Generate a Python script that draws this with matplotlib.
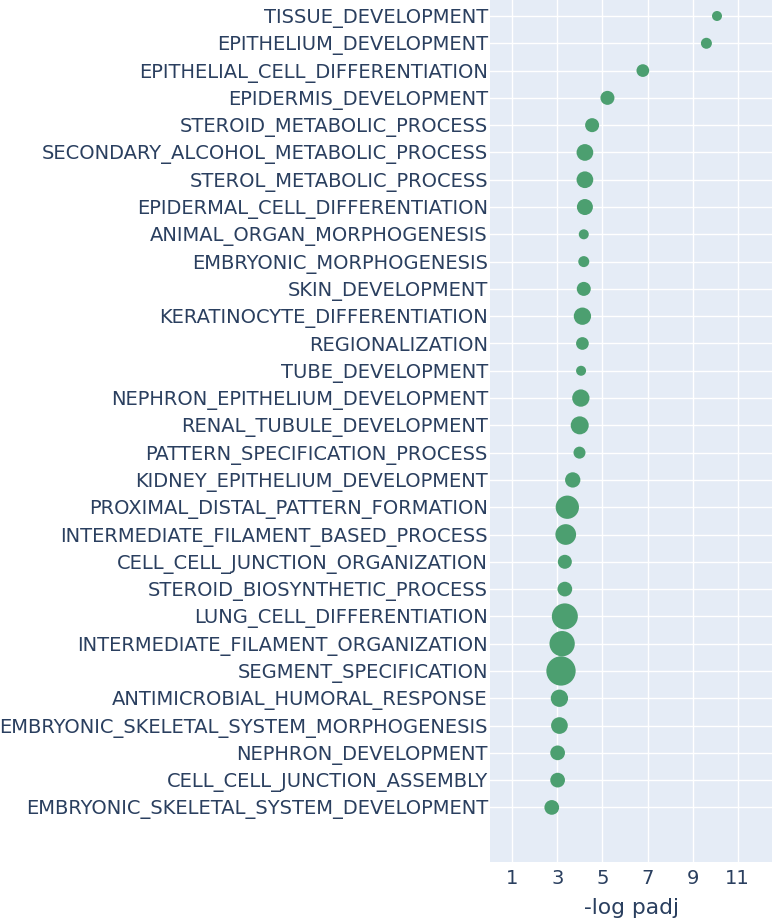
import matplotlib
matplotlib.use("Agg")
import matplotlib.pyplot as plt

# 경로 이름 (위에서 아래 순서)
pathways = [
    "TISSUE_DEVELOPMENT",
    "EPITHELIUM_DEVELOPMENT",
    "EPITHELIAL_CELL_DIFFERENTIATION",
    "EPIDERMIS_DEVELOPMENT",
    "STEROID_METABOLIC_PROCESS",
    "SECONDARY_ALCOHOL_METABOLIC_PROCESS",
    "STEROL_METABOLIC_PROCESS",
    "EPIDERMAL_CELL_DIFFERENTIATION",
    "ANIMAL_ORGAN_MORPHOGENESIS",
    "EMBRYONIC_MORPHOGENESIS",
    "SKIN_DEVELOPMENT",
    "KERATINOCYTE_DIFFERENTIATION",
    "REGIONALIZATION",
    "TUBE_DEVELOPMENT",
    "NEPHRON_EPITHELIUM_DEVELOPMENT",
    "RENAL_TUBULE_DEVELOPMENT",
    "PATTERN_SPECIFICATION_PROCESS",
    "KIDNEY_EPITHELIUM_DEVELOPMENT",
    "PROXIMAL_DISTAL_PATTERN_FORMATION",
    "INTERMEDIATE_FILAMENT_BASED_PROCESS",
    "CELL_CELL_JUNCTION_ORGANIZATION",
    "STEROID_BIOSYNTHETIC_PROCESS",
    "LUNG_CELL_DIFFERENTIATION",
    "INTERMEDIATE_FILAMENT_ORGANIZATION",
    "SEGMENT_SPECIFICATION",
    "ANTIMICROBIAL_HUMORAL_RESPONSE",
    "EMBRYONIC_SKELETAL_SYSTEM_MORPHOGENESIS",
    "NEPHRON_DEVELOPMENT",
    "CELL_CELL_JUNCTION_ASSEMBLY",
    "EMBRYONIC_SKELETAL_SYSTEM_DEVELOPMENT",
]

neg_log_padj = [
    10.08, 9.61, 6.79, 5.22, 4.54, 4.22, 4.22, 4.22, 4.17, 4.17,
    4.17, 4.11, 4.11, 4.05, 4.04, 3.99, 3.98, 3.68, 3.44, 3.37,
    3.33, 3.33, 3.33, 3.21, 3.16, 3.09, 3.09, 3.01, 3.01, 2.75,
]

# 마커 크기 값 (plotly size, 지름 px)
marker_size = [
    10, 11, 12.7, 14, 14, 16.7, 16.7, 16, 10, 11,
    14, 17.3, 12.7, 10, 17.3, 18, 12, 15.3, 23.3, 20.7,
    14, 14.7, 26, 25.3, 29.3, 17.3, 16.7, 14.7, 14.7, 14.7,
]

x_ticks = [1, 3, 5, 7, 9, 11]

DPI = 100
W, H = 772, 922
TEXT = "#2a3f5f"

fig = plt.figure(figsize=(W / DPI, H / DPI), dpi=DPI)
ax = fig.add_axes([490 / W, (H - 862) / H, (772 - 490) / W, 862 / H])
ax.set_facecolor("#E5ECF6")
for sp in ax.spines.values():
    sp.set_visible(False)

ypos = list(range(len(pathways)))
sizes = [(d * 72 / DPI) ** 2 for d in marker_size]
ax.scatter(neg_log_padj, ypos, s=sizes, color="#4C9F70", linewidths=0, zorder=3)

ax.set_xlim(0.01, 12.52)
ax.set_ylim(31.0, -0.586)
ax.set_xticks(x_ticks)
ax.set_xticklabels([str(t) for t in x_ticks])
ax.set_yticks(ypos)
ax.set_yticklabels(pathways)
ax.grid(True, color="white", linewidth=1, zorder=0)
ax.set_axisbelow(True)
ax.tick_params(axis="y", length=0, pad=1.5, labelsize=14, labelcolor=TEXT)
ax.tick_params(axis="x", length=0, pad=5, labelsize=14, labelcolor=TEXT)
ax.set_xlabel("-log padj", fontsize=15.7, color=TEXT, labelpad=7)

fig.savefig("out.png", dpi=DPI)
